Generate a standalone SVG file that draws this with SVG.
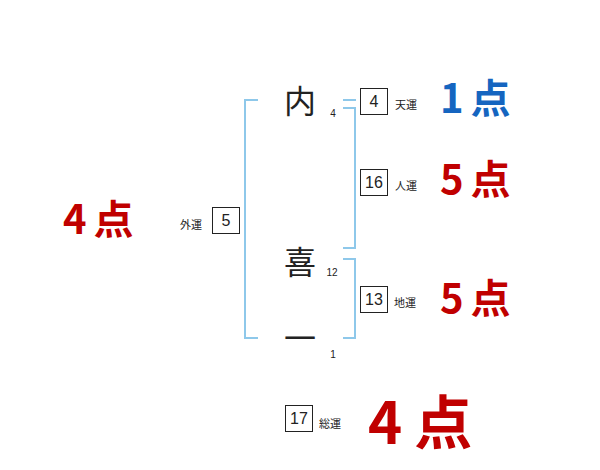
<svg xmlns="http://www.w3.org/2000/svg" width="600" height="470" viewBox="0 0 600 470">
<style>
.br{fill:none;stroke:#8ec8ea;stroke-width:2}
.bx{fill:#fff;stroke:#222;stroke-width:1}
.num{font-family:"Liberation Sans",sans-serif;font-size:16px;fill:#222;text-anchor:middle}
.lab{font-family:"Noto Sans CJK JP",sans-serif;font-size:11px;fill:#222}
.ch{font-family:"Noto Sans CJK JP",sans-serif;font-size:32px;fill:#222;text-anchor:middle}
.st{font-family:"Liberation Sans",sans-serif;font-size:10px;fill:#222;text-anchor:middle}
.sc{font-family:"Noto Sans CJK JP",sans-serif;font-weight:bold;letter-spacing:7px}
.big{letter-spacing:12px}
.red{fill:#c00000}
.blue{fill:#1565c0}
</style>
<rect width="600" height="470" fill="#fff"/>
<g id="connectors">
<path class="br" d="M258,100 H245 V338 H258"/>
<path class="br" d="M343,100 H356"/>
<path class="br" d="M343,108 H355 V248 H343"/>
<path class="br" d="M343,259 H355 V338 H343"/>
</g>
<g id="char1"><text class="ch" x="300" y="113">内</text><text class="st" x="333" y="117">4</text></g>
<g id="char2"><text class="ch" x="300" y="274">喜</text><text class="st" x="332" y="276">12</text></g>
<g id="char3"><text class="ch" x="300" y="350">一</text><text class="st" x="333" y="358">1</text></g>
<g id="tenun"><rect class="bx" x="360.5" y="88.5" width="27" height="26"/><text class="num" x="374" y="107">4</text><text class="lab" x="395" y="109">天運</text></g>
<g id="jinun"><rect class="bx" x="360.5" y="169.5" width="27" height="26"/><text class="num" x="374" y="188">16</text><text class="lab" x="395" y="190">人運</text></g>
<g id="chiun"><rect class="bx" x="360.5" y="286.5" width="27" height="26"/><text class="num" x="374" y="305">13</text><text class="lab" x="394" y="307">地運</text></g>
<g id="gaiun"><rect class="bx" x="212.5" y="207.5" width="27" height="26"/><text class="num" x="226" y="226">5</text><text class="lab" x="180" y="229">外運</text></g>
<g id="souun"><rect class="bx" x="285.5" y="405.5" width="27" height="26"/><text class="num" x="299" y="424">17</text><text class="lab" x="319" y="428">総運</text></g>
<g id="scores">
<text class="sc blue" x="440" y="113" font-size="40">1点</text>
<text class="sc red" x="440" y="194" font-size="40">5点</text>
<text class="sc red" x="440" y="313" font-size="40">5点</text>
<text class="sc red" x="63" y="234" font-size="40">4点</text>
<text class="sc big red" x="368" y="444" font-size="58">4点</text>
</g>
</svg>
